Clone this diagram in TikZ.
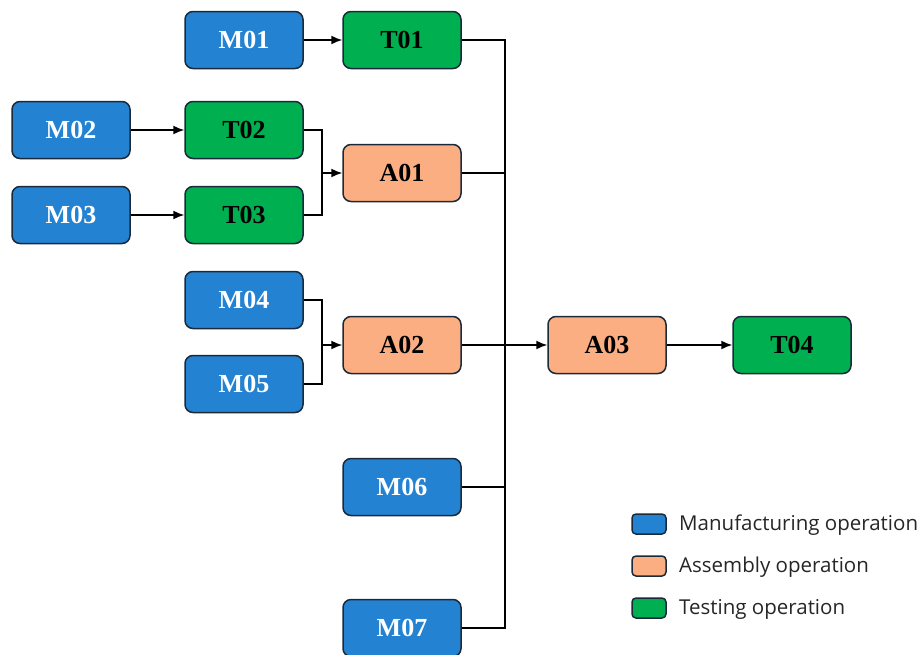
\documentclass[tikz,border=0pt]{standalone}
\usepackage{fontspec}
\setmainfont{Liberation Serif}
\newfontfamily\legendfont{Open Sans}
\usetikzlibrary{arrows.meta}

\definecolor{mblue}{HTML}{2383D2}
\definecolor{aorange}{HTML}{FBAE82}
\definecolor{tgreen}{HTML}{00B050}
\definecolor{opedge}{HTML}{1B2A3A}
\definecolor{legtext}{HTML}{262626}

\tikzset{
    op/.style={draw=opedge, line width=1.5pt, rounded corners=8pt,
        minimum width=118pt, minimum height=57pt, inner sep=0pt,
        font=\fontsize{26}{30}\selectfont\bfseries},
    manuf/.style={op, fill=mblue, text=white},
    assem/.style={op, fill=aorange, text=black},
    testop/.style={op, fill=tgreen, text=black},
    legbox/.style={draw=opedge, line width=1.5pt, rounded corners=4pt,
        minimum width=34pt, minimum height=20pt, inner sep=0pt},
    legtxt/.style={anchor=west, inner sep=0pt, text=legtext,
        font=\legendfont\fontsize{20.5}{24}\selectfont},
    link/.style={line width=1.5pt},
    arr/.style={line width=1.5pt, -{Latex[length=11pt,width=9pt]}}
}

\begin{document}
\begin{tikzpicture}[x=1pt, y=-1pt]
    \useasboundingbox (0,0) rectangle (921,654);

    \node[manuf] (m01) at (244,40) {M01};
    \node[testop] (t01) at (402,40) {T01};
    \node[manuf] (m02) at (71,130) {M02};
    \node[testop] (t02) at (244,130) {T02};
    \node[manuf] (m03) at (71,215) {M03};
    \node[testop] (t03) at (244,215) {T03};
    \node[assem] (a01) at (402,173) {A01};
    \node[manuf] (m04) at (244,300) {M04};
    \node[manuf] (m05) at (244,384) {M05};
    \node[assem] (a02) at (402,345) {A02};
    \node[assem] (a03) at (607,345) {A03};
    \node[testop] (t04) at (792,345) {T04};
    \node[manuf] (m06) at (402,487) {M06};
    \node[manuf] (m07) at (402,628) {M07};

    \coordinate (j1) at (322,173);
    \coordinate (j2) at (322,345);
    \coordinate (bus) at (505,345);

    \path (m01) edge[arr] (t01);
    \path (m02) edge[arr] (t02);
    \path (m03) edge[arr] (t03);
    \draw[link] (t02.east) -| (j1);
    \draw[link] (t03.east) -| (j1);
    \draw[arr] (j1) -- (a01.west);
    \draw[link] (m04.east) -| (j2);
    \draw[link] (m05.east) -| (j2);
    \draw[arr] (j2) -- (a02.west);
    \draw[link] (t01.east) -| (bus);
    \draw[link] (a01.east) -| (bus);
    \draw[link] (m06.east) -| (bus);
    \draw[link] (m07.east) -| (bus);
    \draw[arr] (a02.east) -- (a03.west);
    \path (a03) edge[arr] (t04);

    % legend
    \node[legbox, fill=mblue] (lm) at (649,524) {};
    \node[legbox, fill=aorange] (la) at (649,566) {};
    \node[legbox, fill=tgreen] (lt) at (649,608) {};
    \node[legtxt] at (679,525) {Manufacturing operation};
    \node[legtxt] at (679,567) {Assembly operation};
    \node[legtxt] at (679,609) {Testing operation};
\end{tikzpicture}
\end{document}
